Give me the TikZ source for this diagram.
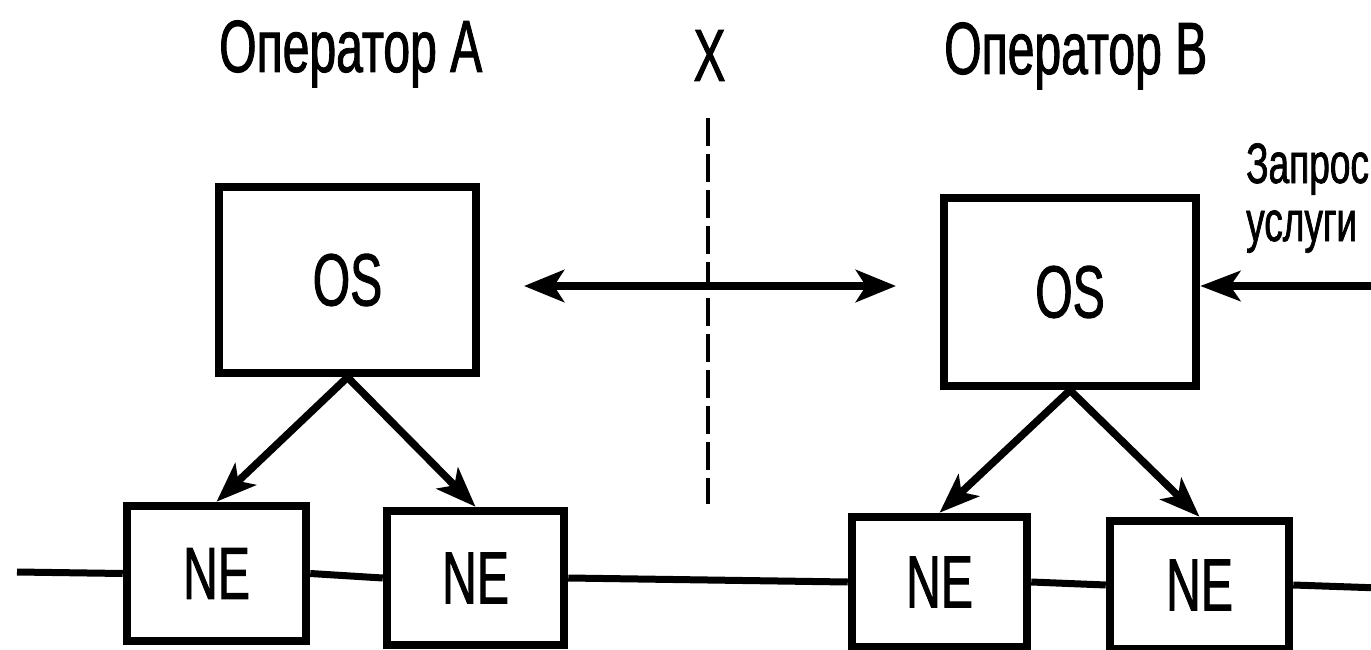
\documentclass[tikz,border=0pt]{standalone}
\usepackage{fontspec}
\setmainfont{Liberation Sans}
\newfontfamily\narrowfont[FakeStretch=0.65,FakeBold=1.2]{Liberation Sans}
\usetikzlibrary{arrows.meta}
\begin{document}
\begin{tikzpicture}[x=1pt,y=-1pt,
  box/.style={draw, line width=8.5pt, inner sep=0pt, font=\narrowfont\fontsize{74}{84}\selectfont},
  lbl/.style={font=\narrowfont\fontsize{74}{84}\selectfont, inner sep=0pt},
  small/.style={font=\narrowfont\fontsize{57}{60}\selectfont, inner sep=0pt},
  conn/.style={line width=7pt},
  arr/.style={line width=7.5pt, -{Stealth[length=40pt,width=30pt,inset=10pt]}},
  darr/.style={line width=7.5pt, {Stealth[length=40pt,width=32pt,inset=10pt]}-{Stealth[length=40pt,width=32pt,inset=10pt]}},
  sep/.style={line width=4.5pt, dash pattern=on 28pt off 8pt},
]
\useasboundingbox (0,0) rectangle (1371,650);
% titles
\node[lbl, anchor=base west] (opA) at (219,72) {Оператор A};
\node[lbl, anchor=base] (X) at (709.5,81) {X};
\node[lbl, anchor=base west] (opB) at (944,74) {Оператор B};
\node[small, anchor=base west] (req1) at (1246,183) {Запрос};
\node[small, anchor=base west] (req2) at (1246,241) {услуги};
% OS boxes
\node[box, minimum width=257pt, minimum height=186pt] (OSA) at (347.5,280) {OS};
\node[box, minimum width=252pt, minimum height=188pt] (OSB) at (1070,292) {OS};
% NE boxes
\node[box, minimum width=179pt, minimum height=135pt] (NE1) at (216.5,573.5) {NE};
\node[box, minimum width=177pt, minimum height=134pt] (NE2) at (475.5,578) {NE};
\node[box, minimum width=175pt, minimum height=130pt] (NE3) at (939.5,582) {NE};
\node[box, minimum width=179pt, minimum height=128pt] (NE4) at (1199.5,585) {NE};
% separator
\coordinate (D1) at (708,118);
\coordinate (D2) at (708,504);
\draw[sep] (D1) -- (D2);
% OS-OS interface
\coordinate (IA) at (524,286);
\coordinate (IB) at (896,286);
\draw[darr] (IA) -- (IB);
% service request
\coordinate (Rin) at (1380,286);
\draw[arr] (Rin) -- (Rin -| OSB.east);
% OS to NE
\draw[arr] (OSA.south) -- (NE1.north);
\draw[arr] (OSA.south) -- (NE2.north);
\draw[arr] (OSB.south) -- (NE3.north);
\draw[arr] (OSB.south) -- (NE4.north);
% transport line
\coordinate (L) at (17,572);
\coordinate (R) at (1380,588);
\draw[conn] (L) -- (NE1.west);
\draw[conn] (NE1.east) -- (NE2.west);
\draw[conn] (NE2.east) -- (NE3.west);
\draw[conn] (NE3.east) -- (NE4.west);
\draw[conn] (NE4.east) -- (R);
\end{tikzpicture}
\end{document}
